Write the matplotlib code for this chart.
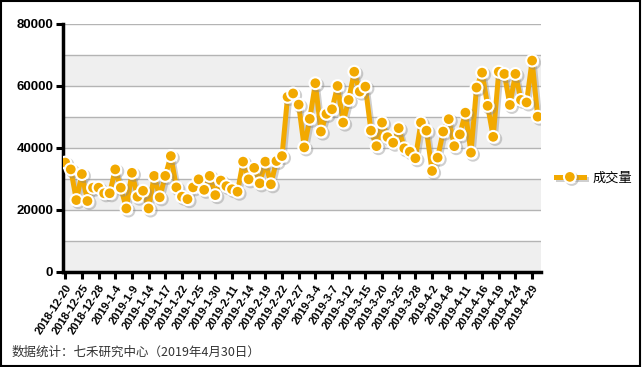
import matplotlib
matplotlib.use("Agg")
import matplotlib.pyplot as plt
import matplotlib.patheffects as pe
from matplotlib.patches import Rectangle
import numpy as np

plt.rcParams['font.family'] = ['Liberation Sans', 'Noto Sans CJK SC', 'DejaVu Sans']

# 成交量 daily values, 2018-12-20 .. 2019-4-30
volume = [35300, 33100, 23200, 31600, 22900, 27200, 27200, 25400, 25400, 33100,
          27200, 20500, 32000, 24300, 26200, 20500, 31000, 24100, 31000, 37400,
          27300, 24300, 23500, 27300, 29900, 26500, 31000, 24800, 29500, 27700,
          26700, 25900, 35600, 29900, 33600, 28600, 35600, 28300, 35800, 37400,
          56500, 57600, 54000, 40200, 49400, 60900, 45300, 51000, 52500, 60000,
          48200, 55500, 64600, 58200, 59800, 45600, 40600, 48200, 43500, 41700,
          46400, 39900, 38800, 36700, 48200, 45600, 32600, 36900, 45300, 49300,
          40600, 44400, 51400, 38500, 59500, 64300, 53600, 43600, 64600, 63900,
          53900, 63900, 55500, 54700, 68200, 50100]

tick_labels = ['2018-12-20', '2018-12-25', '2018-12-28', '2019-1-4', '2019-1-9',
               '2019-1-14', '2019-1-17', '2019-1-22', '2019-1-25', '2019-1-30',
               '2019-2-11', '2019-2-14', '2019-2-19', '2019-2-22', '2019-2-27',
               '2019-3-4', '2019-3-7', '2019-3-12', '2019-3-15', '2019-3-20',
               '2019-3-25', '2019-3-28', '2019-4-2', '2019-4-8', '2019-4-11',
               '2019-4-16', '2019-4-19', '2019-4-24', '2019-4-29']

x = np.arange(len(volume))
color = '#F2A900'

fig = plt.figure(figsize=(6.42, 3.67), dpi=100)
ax = fig.add_axes([63/642, 1-272/367, (541-63)/642, (272-24)/367])

# alternating bands and grid
for lo in range(0, 80000, 20000):
    ax.axhspan(lo, lo + 10000, color='#EFEFEF', zorder=0, lw=0)
for g in range(10000, 80001, 10000):
    ax.axhline(g, color='#B4B4B4', lw=1, zorder=1)

shadow = [pe.SimpleLineShadow(offset=(1.5, -1.5), shadow_color='#888888', alpha=0.4), pe.Normal()]
ax.plot(x, volume, color=color, lw=3.6, marker='o', ms=8.5, mfc=color, mec='white',
        mew=1.5, label='成交量', zorder=3, path_effects=shadow)

ax.set_xlim(-0.4, 85.6)
ax.set_ylim(0, 80000)
ax.set_yticks(range(0, 80001, 20000))
ax.set_yticklabels([str(v) for v in range(0, 80001, 20000)], fontsize=9.5, fontweight='bold')
ax.set_xticks(x[::3])
ax.set_xticklabels(tick_labels, rotation=57, ha='right', rotation_mode='anchor',
                   fontsize=8, fontweight='bold')
ax.tick_params(axis='both', length=5, width=2.2, direction='out', pad=2)
ax.tick_params(axis='x', pad=3)

for s in ['top', 'right']:
    ax.spines[s].set_visible(False)
ax.spines['left'].set_linewidth(2.5)
ax.spines['bottom'].set_linewidth(2.5)

leg = ax.legend(loc='center left', bbox_to_anchor=(556/642, 1-178/367),
                bbox_transform=fig.transFigure, frameon=False, handlelength=2.1,
                handletextpad=0.7, borderpad=0, borderaxespad=0,
                prop={'family': ['Noto Sans CJK SC'], 'size': 9.5})

fig.text(12/642, 1-352/367, '数据统计：七禾研究中心（2019年4月30日）', fontsize=9,
         color='#333333', family=['Noto Sans CJK SC'], va='center')

fig.patches.append(Rectangle((0.002, 0.003), 0.995, 0.994, transform=fig.transFigure,
                             fill=False, ec='black', lw=1.5))

fig.savefig('out.png', dpi=100)
